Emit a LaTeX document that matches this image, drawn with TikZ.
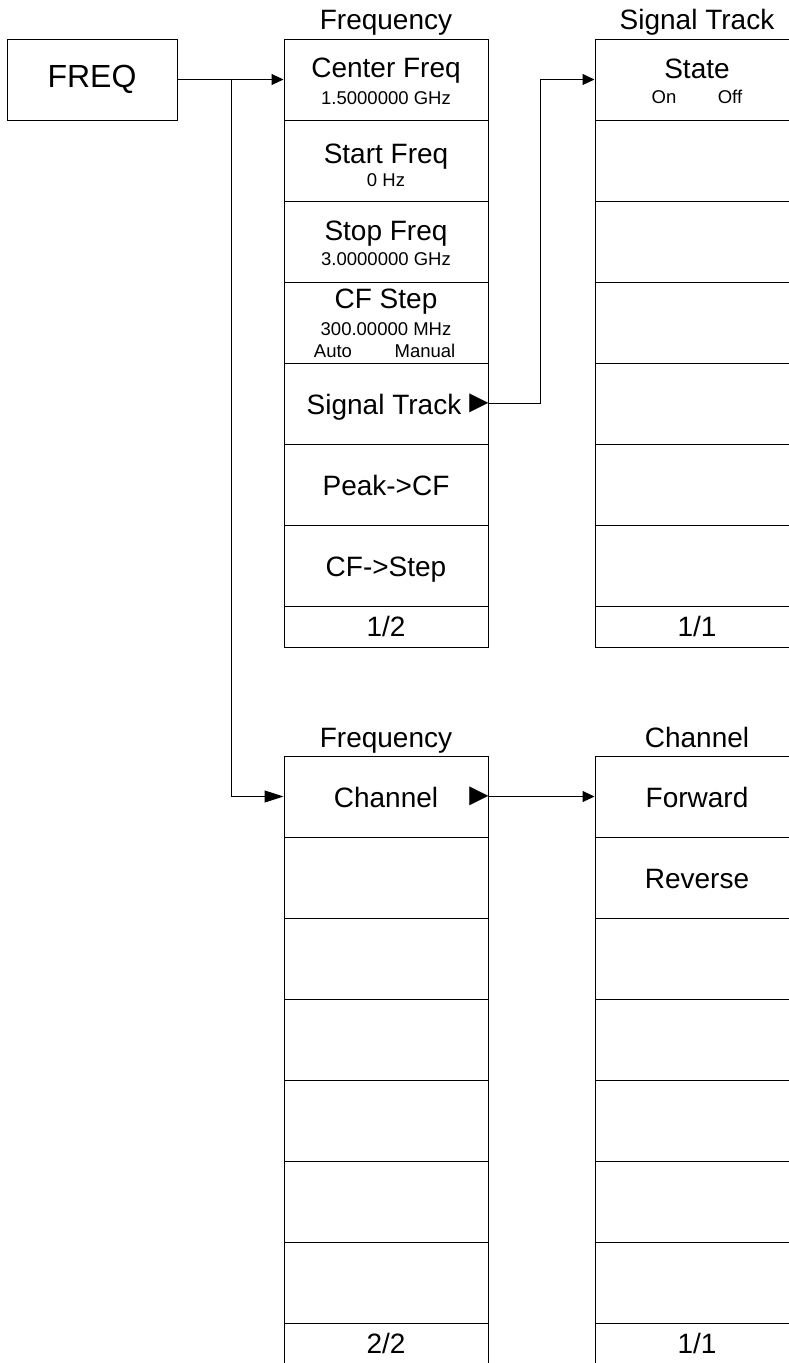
\documentclass[tikz,border=0pt]{standalone}
\usepackage{fontspec}
\setmainfont{Liberation Sans}
\usetikzlibrary{arrows.meta}
\begin{document}
\begin{tikzpicture}[x=1pt,y=-1pt,
  box/.style={draw, line width=1pt, inner sep=0pt, minimum width=204pt, minimum height=81pt},
  foot/.style={box, minimum height=41pt},
  keybox/.style={draw, line width=1pt, inner sep=0pt, minimum width=170pt, minimum height=81pt, font=\fontsize{32}{34}\selectfont},
  big/.style={font=\fontsize{28}{30}\selectfont, inner sep=0pt, anchor=base},
  small/.style={font=\fontsize{18.5}{20}\selectfont, inner sep=0pt, anchor=base},
  ptr/.style={font=\fontsize{32}{34}\selectfont, inner sep=0pt, anchor=east, xshift=6.4pt},
  conn/.style={line width=1pt, -{Triangle[length=12pt,width=11pt]}},
  connlong/.style={line width=1pt, -{Triangle[length=19pt,width=12pt]}},
  plain/.style={line width=1pt}
]
\path[use as bounding box] (0,0) rectangle (789,1363);
\clip (0,0) rectangle (789,1363);

% FREQ key
\node[keybox] (freq) at (92,79.5) {FREQ};

% Menu columns
\foreach \i in {1,...,7} {
  \node[box] (fA\i) at (386,{79.5+81*(\i-1)}) {};
  \node[box] (sA\i) at (697,{79.5+81*(\i-1)}) {};
  \node[box] (fB\i) at (386,{796.5+81*(\i-1)}) {};
  \node[box] (cB\i) at (697,{796.5+81*(\i-1)}) {};
}
\node[foot] (fAf) at (386,626.5) {};
\node[foot] (sAf) at (697,626.5) {};
\node[foot] (fBf) at (386,1343.5) {};
\node[foot] (cBf) at (697,1343.5) {};

% Titles
\node[big] (tA) at (386,29) {Frequency};
\node[big] (tS) at (697,29) {Signal Track};
\node[big] (tB) at (386,747) {Frequency};
\node[big] (tC) at (697,747) {Channel};

% Frequency 1/2 texts
\node[big] (cf) at (386,77) {Center Freq};
\node[small] (cfv) at (386,104) {1.5000000 GHz};
\node[big] (sf) at (386,163) {Start Freq};
\node[small] (sfv) at (386,186) {0 Hz};
\node[big] (pf) at (386,240) {Stop Freq};
\node[small] (pfv) at (386,265) {3.0000000 GHz};
\node[big] (cs) at (386,308) {CF Step};
\node[small] (csv) at (386,335) {300.00000 MHz};
\node[small] (csa) at (333,357) {Auto};
\node[small] (csm) at (425,357) {Manual};
\node[big] (st) at (384,414) {Signal Track};
\node[ptr] (stp) at (fA5.east) {►};
\node[big] (pk) at (386,495) {Peak->CF};
\node[big] (cfs) at (386,576) {CF->Step};
\node[big] (pgA) at (386,636) {1/2};

% Signal Track texts
\node[big] (state) at (697,78) {State};
\node[small] (on) at (664,103) {On};
\node[small] (off) at (730,103) {Off};
\node[big] (pgS) at (697,636) {1/1};

% Frequency 2/2 texts
\node[big] (ch) at (386,807) {Channel};
\node[ptr] (chp) at (fB1.east) {►};
\node[big] (pgB) at (386,1353) {2/2};

% Channel texts
\node[big] (fw) at (697,807) {Forward};
\node[big] (rv) at (697,888) {Reverse};
\node[big] (pgC) at (697,1353) {1/1};

% Connectors
\coordinate (jn) at (231,79.5);
\draw[conn] (freq.east) -- (fA1.west);
\draw[connlong] (jn) |- (fB1.west);
\coordinate (sb) at (540,403.5);
\draw[conn] (fA5.east) -- (sb) |- (sA1.west);
\draw[conn] (fB1.east) -- (cB1.west);
\end{tikzpicture}
\end{document}
